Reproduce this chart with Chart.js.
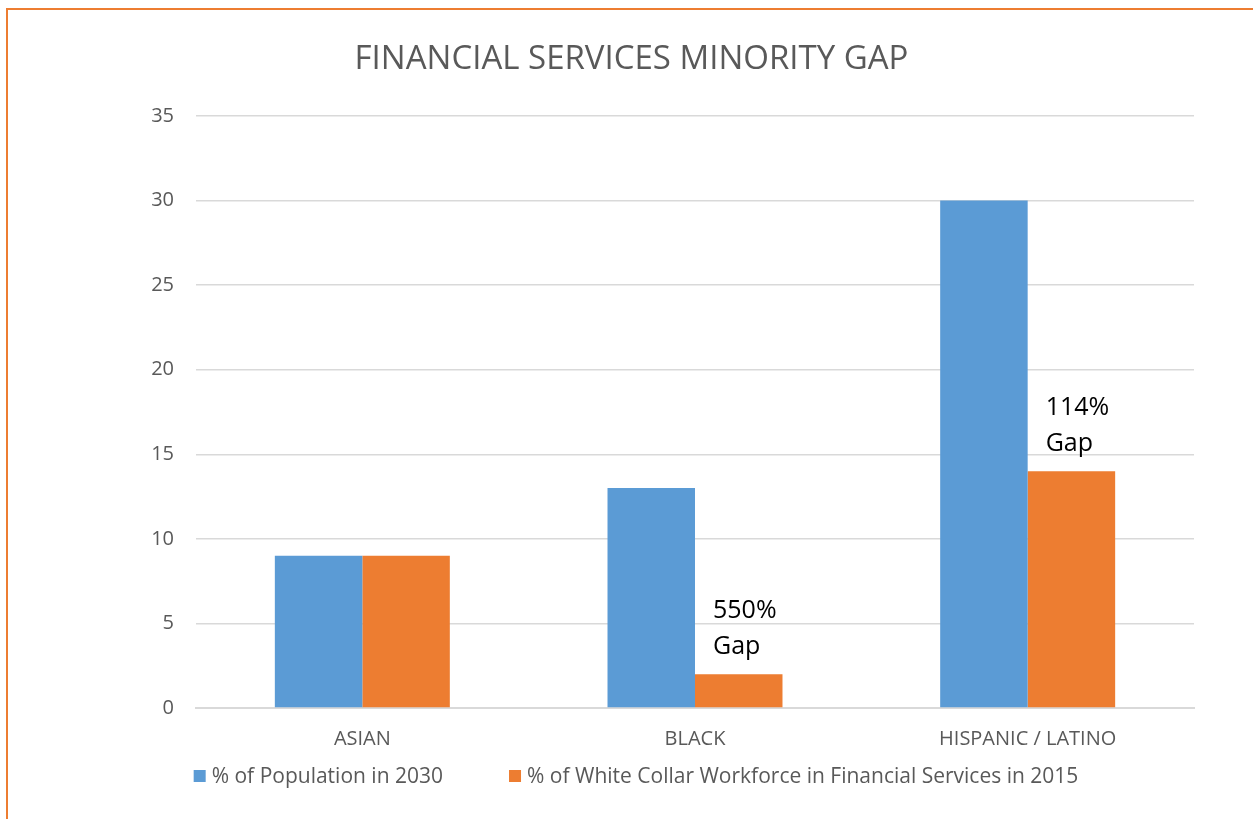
<!DOCTYPE html>
<html>
<head>
<meta charset="utf-8">
<script src="https://cdn.jsdelivr.net/npm/chart.js@4/dist/chart.umd.min.js"></script>
<style>
  html, body { margin: 0; padding: 0; background: #fff; overflow: hidden; }
  #wrap { position: relative; width: 1253px; height: 819px; }
  #frame {
    position: absolute; left: 6px; top: 8px; width: 1300px; height: 900px;
    border-top: 2px solid #ED7D31; border-left: 2px solid #ED7D31;
  }
  canvas { position: absolute; left: 0; top: 0; }
</style>
</head>
<body>
<div id="wrap">
  <div id="frame"></div>
  <canvas id="gapChart" width="1253" height="819"></canvas>
</div>
<script>
// --- Data ---
const categories = ['ASIAN', 'BLACK', 'HISPANIC / LATINO'];
const population2030 = [9, 13, 30];
const workforce2015 = [9, 2, 14];
const gapLabels = ['', '550%', '114%'];
const seriesNames = ['% of Population in 2030', '% of White Collar Workforce in Financial Services in 2015'];
const chartTitle = 'FINANCIAL SERVICES MINORITY GAP';

const FONT = "'Open Sans', 'Liberation Sans', sans-serif";
const GREY = '#595959';
const COLORS = ['#5B9BD5', '#ED7D31'];

// Title across the whole canvas, not just the plot
const titleText = {
    id: 'titleText',
    afterDraw(chart) {
        const ctx = chart.ctx;
        ctx.save();
        ctx.fillStyle = GREY;
        ctx.font = `33px ${FONT}`;
        ctx.textAlign = 'center';
        ctx.textBaseline = 'middle';
        ctx.fillText(chartTitle, chart.width / 2 + 5, 60);
        ctx.restore();
    }
};

// Legend row under the axis, built from the dataset colours and names
const bottomLegend = {
    id: 'bottomLegend',
    afterDraw(chart) {
        const ctx = chart.ctx;
        ctx.save();
        ctx.font = `21px ${FONT}`;
        ctx.textBaseline = 'middle';
        const box = 12, gap = 6, spacing = 66, y = 776;
        const widths = seriesNames.map(s => ctx.measureText(s).width);
        const total = widths.reduce((a, w) => a + box + gap + w, 0) + spacing * (seriesNames.length - 1);
        let x = 636 - total / 2;
        seriesNames.forEach((name, i) => {
            ctx.fillStyle = chart.data.datasets[i].backgroundColor;
            ctx.fillRect(x, y - box / 2, box, box);
            ctx.fillStyle = GREY;
            ctx.fillText(name, x + box + gap, y + 1);
            x += box + gap + widths[i] + spacing;
        });
        ctx.restore();
    }
};

// "NNN% / Gap" notes above the orange bars
const gapNotes = {
    id: 'gapNotes',
    afterDatasetsDraw(chart) {
        const ctx = chart.ctx;
        const meta = chart.getDatasetMeta(1);
        ctx.save();
        ctx.fillStyle = '#000';
        ctx.font = `25px ${FONT}`;
        ctx.textAlign = 'left';
        ctx.textBaseline = 'middle';
        meta.data.forEach((bar, i) => {
            if (!gapLabels[i]) return;
            const left = bar.x - bar.width / 2 + 18;
            ctx.fillText(gapLabels[i], left, bar.y - 63);
            ctx.fillText('Gap', left, bar.y - 27);
        });
        ctx.restore();
    }
};

const ctx = document.getElementById('gapChart').getContext('2d');
new Chart(ctx, {
    type: 'bar',
    data: {
        labels: categories,
        datasets: [
            { label: seriesNames[0], data: population2030, backgroundColor: COLORS[0] },
            { label: seriesNames[1], data: workforce2015, backgroundColor: COLORS[1] }
        ]
    },
    options: {
        responsive: false,
        animation: false,
        categoryPercentage: 0.526,
        barPercentage: 1,
        layout: { padding: { top: 116, right: 59, bottom: 49, left: 0 } },
        scales: {
            x: {
                grid: { display: false, drawTicks: false },
                border: { display: true, color: '#D9D9D9', width: 2 },
                ticks: { color: GREY, font: { family: FONT, size: 20 }, padding: 19 }
            },
            y: {
                min: 0, max: 35,
                ticks: { stepSize: 5, color: GREY, font: { family: FONT, size: 20 }, padding: 22 },
                grid: { color: '#D9D9D9', lineWidth: 1.5, drawTicks: false },
                border: { display: false },
                afterFit(scale) { scale.width = 196; }
            }
        },
        plugins: {
            legend: { display: false },
            tooltip: { enabled: false }
        }
    },
    plugins: [gapNotes, titleText, bottomLegend]
});
</script>
</body>
</html>
